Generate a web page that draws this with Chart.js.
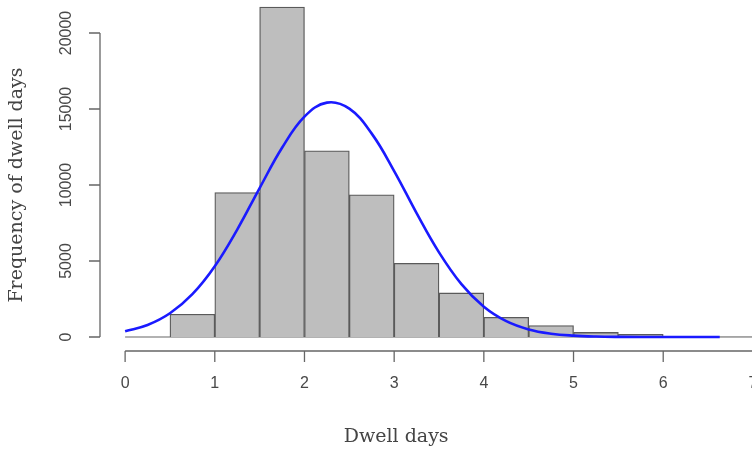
<!DOCTYPE html>
<html lang="en">
<head>
    <meta charset="UTF-8">
    <title>Dwell days histogram</title>
    <style>
        body {
            margin: 0;
            background: #ffffff;
        }
        #wrap {
            width: 752px;
            height: 455px;
            position: relative;
        }
    </style>
</head>
<body>
    <div id="wrap">
        <canvas id="histChart"></canvas>
    </div>
    <script src="https://cdn.jsdelivr.net/npm/chart.js"></script>
    <script>
        // histogram bins (0.5 day wide), centre of each bin and its count
        const binCentres = [0.25, 0.75, 1.25, 1.75, 2.25, 2.75, 3.25, 3.75, 4.25, 4.75, 5.25, 5.75, 6.25, 6.75];
        const binCounts = [0, 1500, 9500, 21700, 12250, 9350, 4850, 2900, 1300, 750, 300, 180, 40, 15];
        const binEdges = [0, 7];

        // fitted normal curve
        const curveX = [0, 0.25, 0.5, 0.75, 1, 1.25, 1.5, 1.75, 2, 2.25, 2.5, 2.75, 3, 3.25, 3.5, 3.75, 4, 4.25, 4.5, 4.75, 5, 5.25, 5.5, 6, 6.63];
        const curveY = [380, 790, 1560, 2820, 4660, 7070, 9800, 12450, 14500, 15420, 15020, 13380, 10920, 8150, 5570, 3480, 1990, 1040, 500, 220, 90, 30, 10, 0, 0];

        const xTicks = [0, 1, 2, 3, 4, 5, 6, 7];
        const yTicks = [0, 5000, 10000, 15000, 20000];
        const xTitle = 'Dwell days';
        const yTitle = 'Frequency of dwell days';

        // R style detached axes, drawn from the chart scales
        const rAxes = {
            id: 'rAxes',
            beforeDatasetsDraw(chart) {
                const c = chart.ctx;
                const xs = chart.scales.x, ys = chart.scales.y;
                // zero line under the bars
                c.save();
                c.strokeStyle = '#666';
                c.lineWidth = 1.2;
                c.beginPath();
                c.moveTo(xs.getPixelForValue(binEdges[0]), ys.getPixelForValue(0));
                c.lineTo(xs.getPixelForValue(binEdges[1]), ys.getPixelForValue(0));
                c.stroke();
                c.restore();
            },
            afterDraw(chart) {
                const c = chart.ctx;
                const xs = chart.scales.x, ys = chart.scales.y;
                const area = chart.chartArea;
                c.save();
                c.strokeStyle = '#666';
                c.lineWidth = 1.3;
                c.fillStyle = '#484848';
                c.font = '16px "Liberation Sans", Arial, sans-serif';
                c.textAlign = 'center';
                c.textBaseline = 'middle';

                // y axis
                const ax = area.left;
                c.beginPath();
                c.moveTo(ax, ys.getPixelForValue(yTicks[0]));
                c.lineTo(ax, ys.getPixelForValue(yTicks[yTicks.length - 1]));
                yTicks.forEach(v => {
                    const py = ys.getPixelForValue(v);
                    c.moveTo(ax, py);
                    c.lineTo(ax - 11, py);
                });
                c.stroke();
                yTicks.forEach(v => {
                    const py = ys.getPixelForValue(v);
                    c.save();
                    c.translate(ax - 33, py);
                    c.rotate(-Math.PI / 2);
                    c.fillText(String(v), 0, 0);
                    c.restore();
                });

                // x axis
                const ay = area.bottom;
                c.beginPath();
                c.moveTo(xs.getPixelForValue(xTicks[0]), ay);
                c.lineTo(xs.getPixelForValue(xTicks[xTicks.length - 1]), ay);
                xTicks.forEach(v => {
                    const px = xs.getPixelForValue(v);
                    c.moveTo(px, ay);
                    c.lineTo(px, ay + 11);
                });
                c.stroke();
                xTicks.forEach(v => {
                    c.fillText(String(v), xs.getPixelForValue(v), ay + 33);
                });

                // titles
                c.fillStyle = '#444';
                c.font = '19px "DejaVu Serif", serif';
                c.fillText(xTitle, (xs.getPixelForValue(0) + xs.getPixelForValue(6)) / 2 + 2, ay + 86);
                c.save();
                c.translate(17, (ys.getPixelForValue(yTicks[0]) + ys.getPixelForValue(yTicks[yTicks.length - 1])) / 2);
                c.rotate(-Math.PI / 2);
                c.fillText(yTitle, 0, 0);
                c.restore();
                c.restore();
            }
        };

        const ctx = document.getElementById('histChart').getContext('2d');
        const histChart = new Chart(ctx, {
            type: 'bar',
            data: {
                datasets: [
                    {
                        type: 'line',
                        data: curveX.map((x, i) => ({ x: x, y: curveY[i] })),
                        borderColor: '#1a1aff',
                        borderWidth: 2.6,
                        pointRadius: 0,
                        tension: 0.4,
                        fill: false,
                        order: 0
                    },
                    {
                        type: 'bar',
                        data: binCentres.map((x, i) => ({ x: x, y: binCounts[i] })),
                        backgroundColor: '#bebebe',
                        borderColor: '#5a5a5a',
                        borderWidth: 1.3,
                        borderSkipped: 'start',
                        barPercentage: 1,
                        categoryPercentage: 1,
                        order: 1
                    }
                ]
            },
            options: {
                responsive: true,
                maintainAspectRatio: false,
                animation: false,
                layout: { padding: { left: 100, right: 0, top: 0, bottom: 104 } },
                plugins: { legend: { display: false }, tooltip: { enabled: false } },
                scales: {
                    x: {
                        type: 'linear',
                        display: false,
                        offset: false,
                        min: -0.28,
                        max: 6.99,
                        afterBuildTicks: axis => { axis.ticks = xTicks.map(v => ({ value: v })); }
                    },
                    y: {
                        type: 'linear',
                        display: false,
                        min: -920,
                        max: 22170,
                        afterBuildTicks: axis => { axis.ticks = yTicks.map(v => ({ value: v })); }
                    }
                }
            },
            plugins: [rAxes]
        });
    </script>
</body>
</html>
